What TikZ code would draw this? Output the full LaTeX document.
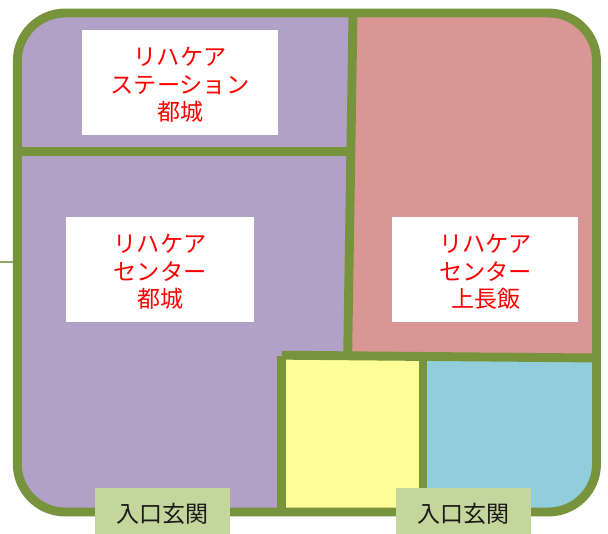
\documentclass[tikz,border=0pt]{standalone}
\usepackage{fontspec}
\setmainfont{Noto Sans CJK JP}
\definecolor{wall}{HTML}{77933C}
\definecolor{purpleroom}{HTML}{B2A1C7}
\definecolor{pinkroom}{HTML}{D99694}
\definecolor{yellowroom}{HTML}{FFFF99}
\definecolor{blueroom}{HTML}{92CDDC}
\definecolor{entrybox}{HTML}{C3D69B}
\definecolor{stubline}{HTML}{8FA866}
\tikzset{
  x=1pt,y=-1pt,
  wallline/.style={draw=wall,line width=8.9pt},
  namebox/.style={fill=white,inner sep=0pt,anchor=center,minimum height=105pt},
  nametext/.style={text=red,inner sep=0pt,align=center,anchor=center,
    font=\fontsize{23.2}{27.5}\selectfont},
  entrybg/.style={fill=entrybox,inner sep=0pt,anchor=center,
    minimum width=135pt,minimum height=46pt},
  entrytext/.style={text=black!90,inner sep=0pt,anchor=center,
    font=\fontsize{23}{26}\selectfont},
}
\newcommand{\smallline}[1]{{\fontsize{23}{27.5}\selectfont #1}}
\begin{document}
\begin{tikzpicture}
\useasboundingbox (0,0) rectangle (608,534);
% stub on the left wall
\coordinate (stubL) at (0,262.5);
\coordinate (stubR) at (14,262.5);
\draw[stubline,line width=2pt] (stubL) -- (stubR);
% rooms
\begin{scope}
  \clip[rounded corners=48pt] (17.3,13) rectangle (596.5,512);
  \fill[purpleroom] (0,0) rectangle (350,534);
  \fill[pinkroom] (353,0) -- (608,0) -- (608,358) -- (347.7,355) -- cycle;
  \fill[yellowroom] (281,355) rectangle (423,512);
  \fill[blueroom] (423,356) -- (608,358) -- (608,534) -- (423,534) -- cycle;
\end{scope}
% inner walls
\draw[wallline] (17.3,151.3) -- (352,151.3);
\draw[wallline] (353,13) -- (347.7,354);
\draw[wallline] (281.5,355.2) -- (596.5,358);
\draw[wallline] (281.3,356) -- (281.3,512);
\draw[wallline] (423,357) -- (423,512);
% outer wall
\draw[wallline,rounded corners=48pt] (17.3,13) rectangle (596.5,512);
% name boxes
\node[namebox,minimum width=196pt] (station) at (180,82.5) {};
\node[namebox,minimum width=188pt] (center) at (160,269.5) {};
\node[namebox,minimum width=186pt] (kami) at (485,269.5) {};
\node[nametext] (stationT) at ([yshift=-2.5pt]station.center)
  {リハケア\\ステーション\\\smallline{都城}};
\node[nametext] (centerT) at ([yshift=-2.5pt]center.center)
  {リハケア\\センター\\\smallline{都城}};
\node[nametext] (kamiT) at ([xshift=0.7pt,yshift=-2.5pt]kami.center)
  {リハケア\\センター\\\smallline{上長飯}};
% entrances
\node[entrybg] (entryA) at (162.5,511) {};
\node[entrybg] (entryB) at (463.5,511) {};
\node[entrytext] (entryAT) at ([yshift=-2.5pt]entryA.center) {入口玄関};
\node[entrytext] (entryBT) at ([yshift=-2.5pt]entryB.center) {入口玄関};
\end{tikzpicture}
\end{document}
